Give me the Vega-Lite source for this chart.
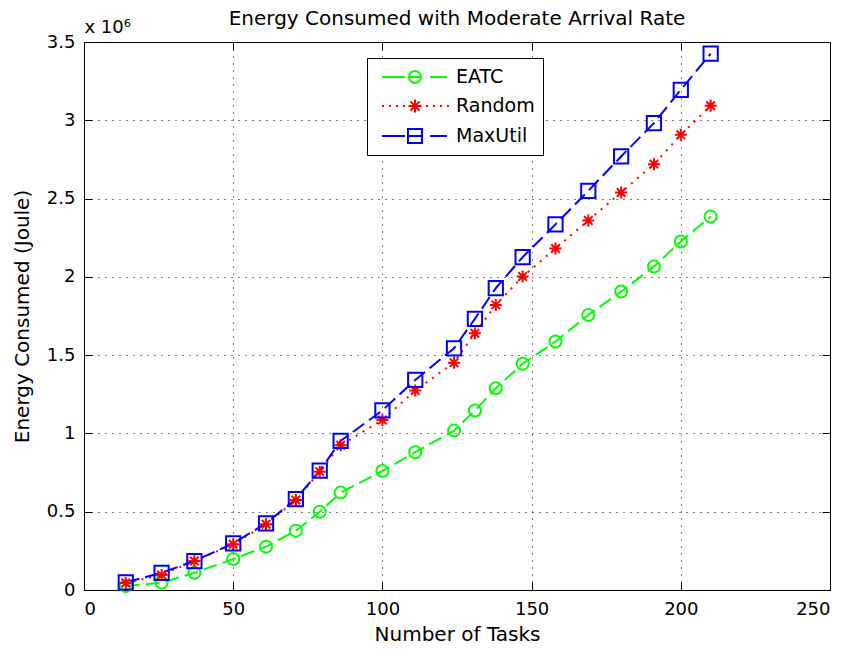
{
  "$schema": "https://vega.github.io/schema/vega-lite/v6.json",
  "width": 746,
  "height": 548,
  "autosize": "none",
  "padding": {"left": 84, "top": 42, "right": 18, "bottom": 60},
  "background": "white",
  "config": {
    "font": "DejaVu Sans",
    "view": {"stroke": "black", "strokeWidth": 1},
    "axis": {
      "domain": false,
      "tickColor": "black",
      "tickSize": -8,
      "tickWidth": 1,
      "labelColor": "black",
      "labelFont": "DejaVu Sans",
      "labelFontSize": 18,
      "titleFont": "DejaVu Sans",
      "titleFontSize": 20,
      "titleFontWeight": "normal",
      "titleColor": "black",
      "gridColor": "black",
      "gridOpacity": 1,
      "gridDash": [1, 6],
      "gridWidth": 1
    }
  },
  "title": {
    "text": "Energy Consumed with Moderate Arrival Rate",
    "fontSize": 20,
    "fontWeight": "normal",
    "font": "DejaVu Sans",
    "color": "black",
    "anchor": "middle",
    "frame": "group",
    "baseline": "alphabetic",
    "offset": 0,
    "dy": 27
  },
  "data": {
    "values": [
      {"tasks": 14, "series": "EATC", "energy": 0.025},
      {"tasks": 26, "series": "EATC", "energy": 0.047},
      {"tasks": 37, "series": "EATC", "energy": 0.11},
      {"tasks": 50, "series": "EATC", "energy": 0.198},
      {"tasks": 61, "series": "EATC", "energy": 0.277},
      {"tasks": 71, "series": "EATC", "energy": 0.379},
      {"tasks": 79, "series": "EATC", "energy": 0.5},
      {"tasks": 86, "series": "EATC", "energy": 0.622},
      {"tasks": 100, "series": "EATC", "energy": 0.76},
      {"tasks": 111, "series": "EATC", "energy": 0.88},
      {"tasks": 124, "series": "EATC", "energy": 1.018},
      {"tasks": 131, "series": "EATC", "energy": 1.146},
      {"tasks": 138, "series": "EATC", "energy": 1.289},
      {"tasks": 147, "series": "EATC", "energy": 1.445},
      {"tasks": 158, "series": "EATC", "energy": 1.587},
      {"tasks": 169, "series": "EATC", "energy": 1.757},
      {"tasks": 180, "series": "EATC", "energy": 1.906},
      {"tasks": 191, "series": "EATC", "energy": 2.066},
      {"tasks": 200, "series": "EATC", "energy": 2.226},
      {"tasks": 210, "series": "EATC", "energy": 2.385},
      {"tasks": 14, "series": "Random", "energy": 0.045},
      {"tasks": 26, "series": "Random", "energy": 0.096},
      {"tasks": 37, "series": "Random", "energy": 0.185},
      {"tasks": 50, "series": "Random", "energy": 0.292},
      {"tasks": 61, "series": "Random", "energy": 0.42},
      {"tasks": 71, "series": "Random", "energy": 0.575},
      {"tasks": 79, "series": "Random", "energy": 0.756},
      {"tasks": 86, "series": "Random", "energy": 0.925},
      {"tasks": 100, "series": "Random", "energy": 1.086},
      {"tasks": 111, "series": "Random", "energy": 1.274},
      {"tasks": 124, "series": "Random", "energy": 1.452},
      {"tasks": 131, "series": "Random", "energy": 1.64},
      {"tasks": 138, "series": "Random", "energy": 1.821},
      {"tasks": 147, "series": "Random", "energy": 2.002},
      {"tasks": 158, "series": "Random", "energy": 2.181},
      {"tasks": 169, "series": "Random", "energy": 2.36},
      {"tasks": 180, "series": "Random", "energy": 2.539},
      {"tasks": 191, "series": "Random", "energy": 2.72},
      {"tasks": 200, "series": "Random", "energy": 2.907},
      {"tasks": 210, "series": "Random", "energy": 3.093},
      {"tasks": 14, "series": "MaxUtil", "energy": 0.049},
      {"tasks": 26, "series": "MaxUtil", "energy": 0.11},
      {"tasks": 37, "series": "MaxUtil", "energy": 0.185},
      {"tasks": 50, "series": "MaxUtil", "energy": 0.298},
      {"tasks": 61, "series": "MaxUtil", "energy": 0.426},
      {"tasks": 71, "series": "MaxUtil", "energy": 0.581},
      {"tasks": 79, "series": "MaxUtil", "energy": 0.762},
      {"tasks": 86, "series": "MaxUtil", "energy": 0.952},
      {"tasks": 100, "series": "MaxUtil", "energy": 1.147},
      {"tasks": 111, "series": "MaxUtil", "energy": 1.342},
      {"tasks": 124, "series": "MaxUtil", "energy": 1.544},
      {"tasks": 131, "series": "MaxUtil", "energy": 1.732},
      {"tasks": 138, "series": "MaxUtil", "energy": 1.928},
      {"tasks": 147, "series": "MaxUtil", "energy": 2.126},
      {"tasks": 158, "series": "MaxUtil", "energy": 2.335},
      {"tasks": 169, "series": "MaxUtil", "energy": 2.549},
      {"tasks": 180, "series": "MaxUtil", "energy": 2.769},
      {"tasks": 191, "series": "MaxUtil", "energy": 2.982},
      {"tasks": 200, "series": "MaxUtil", "energy": 3.195},
      {"tasks": 210, "series": "MaxUtil", "energy": 3.425}
    ]
  },
  "layer": [
    {
      "mark": {"type": "line", "strokeWidth": 2},
      "encoding": {
        "x": {
          "field": "tasks", "type": "quantitative",
          "scale": {"domain": [0, 250], "nice": false, "zero": false},
          "axis": {
            "orient": "bottom",
            "values": [0, 50, 100, 150, 200, 250],
            "grid": true,
            "labelPadding": 18,
            "title": "Number of Tasks",
            "titlePadding": 6
          }
        },
        "y": {
          "field": "energy", "type": "quantitative",
          "scale": {"domain": [0, 3.5], "nice": false, "zero": false},
          "axis": {
            "orient": "left",
            "values": [0, 0.5, 1, 1.5, 2, 2.5, 3, 3.5],
            "format": ".1~f",
            "grid": true,
            "labelPadding": 17,
            "title": "Energy Consumed (Joule)",
            "titlePadding": 14
          }
        },
        "color": {
          "field": "series", "type": "nominal",
          "scale": {"domain": ["EATC", "Random", "MaxUtil"], "range": ["#00ff00", "#ff0000", "#0000ff"]},
          "legend": null
        },
        "strokeDash": {
          "field": "series", "type": "nominal",
          "scale": {"domain": ["EATC", "Random", "MaxUtil"], "range": [[14, 6], [2, 6], [14, 6]]},
          "legend": null
        }
      }
    },
    {
      "mark": {"type": "point", "filled": false, "size": 225, "strokeWidth": 2, "opacity": 1},
      "encoding": {
        "x": {"field": "tasks", "type": "quantitative", "axis": null},
        "y": {"field": "energy", "type": "quantitative", "axis": null},
        "color": {
          "field": "series", "type": "nominal",
          "scale": {"domain": ["EATC", "Random", "MaxUtil"], "range": ["#00ff00", "#ff0000", "#0000ff"]},
          "legend": null
        },
        "shape": {
          "field": "series", "type": "nominal",
          "scale": {
            "domain": ["EATC", "Random", "MaxUtil"],
            "range": [
              "M0.8,0A0.8,0.8,0,1,1,-0.8,0A0.8,0.8,0,1,1,0.8,0Z",
              "M0,-0.8L0,0.8M-0.8,0L0.8,0M-0.57,-0.57L0.57,0.57M-0.57,0.57L0.57,-0.57",
              "M-0.95,-0.95L0.95,-0.95L0.95,0.95L-0.95,0.95Z"
            ]
          },
          "legend": null
        }
      }
    },
    {
      "transform": [{"filter": "false"}],
      "mark": {"type": "point", "filled": false, "size": 400, "strokeWidth": 2, "opacity": 1},
      "encoding": {
        "x": {
          "field": "tasks", "type": "quantitative",
          "axis": {
            "orient": "top",
            "values": [0, 50, 100, 150, 200, 250],
            "labels": false,
            "grid": false,
            "title": "x 10⁶",
            "titleFontSize": 18,
            "titleX": 0,
            "titleY": -10,
            "titleAlign": "left",
            "titleAnchor": "start",
            "titleAngle": 0,
            "titleBaseline": "alphabetic"
          }
        },
        "y": {
          "field": "energy", "type": "quantitative",
          "axis": {
            "orient": "right",
            "values": [0, 0.5, 1, 1.5, 2, 2.5, 3, 3.5],
            "labels": false,
            "grid": false,
            "title": null
          }
        },
        "color": {
          "field": "series", "type": "nominal",
          "scale": {"domain": ["EATC", "Random", "MaxUtil"], "range": ["#00ff00", "#ff0000", "#0000ff"]},
          "legend": {
            "orient": "none", "legendX": 283, "legendY": 16, "title": null,
            "padding": 8, "fillColor": "white", "strokeColor": "black",
            "labelFontSize": 19, "labelFont": "DejaVu Sans", "labelColor": "black",
            "symbolSize": 400, "symbolStrokeWidth": 2, "symbolOffset": 29, "labelOffset": 30, "rowPadding": 8
          }
        },
        "shape": {
          "field": "series", "type": "nominal",
          "scale": {
            "domain": ["EATC", "Random", "MaxUtil"],
            "range": [
              "M-3.3,0L-1.0,0M-0.6,0L0.6,0M1.5,0L3.2,0M0.6,0A0.6,0.6,0,1,1,-0.6,0A0.6,0.6,0,1,1,0.6,0Z",
              "M-3.3,0L-3.1,0M-2.6,0L-2.4,0M-1.9,0L-1.7,0M-1.2,0L-1.0,0M1.1,0L1.3,0M1.8,0L2.0,0M2.5,0L2.7,0M3.2,0L3.4,0M0,-0.65L0,0.65M-0.65,0L0.65,0M-0.46,-0.46L0.46,0.46M-0.46,0.46L0.46,-0.46",
              "M-3.3,0L-1.0,0M-0.7,0L0.7,0M1.5,0L3.2,0M-0.7,-0.7L0.7,-0.7L0.7,0.7L-0.7,0.7Z"
            ]
          },
          "legend": {
            "orient": "none", "legendX": 283, "legendY": 16, "title": null,
            "padding": 8, "fillColor": "white", "strokeColor": "black",
            "labelFontSize": 19, "labelFont": "DejaVu Sans", "labelColor": "black",
            "symbolSize": 400, "symbolStrokeWidth": 2, "symbolOffset": 29, "labelOffset": 30, "rowPadding": 8
          }
        }
      }
    }
  ],
  "resolve": {
    "scale": {"color": "independent", "shape": "independent", "strokeDash": "independent"},
    "axis": {"x": "independent", "y": "independent"}
  }
}
